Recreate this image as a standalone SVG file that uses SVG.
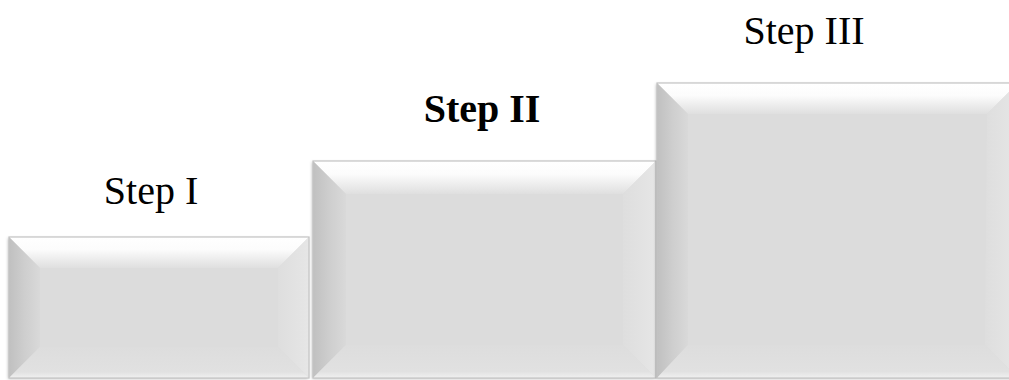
<svg xmlns="http://www.w3.org/2000/svg" width="1009" height="380" viewBox="0 0 1009 380">
<style>
.lbl{font-family:"Liberation Serif","Times New Roman",serif;font-size:40px;fill:#000;text-anchor:middle}
.face{fill:#dcdcdc}
.top{fill:url(#gTop)}
.left{fill:url(#gLeft)}
.right{fill:url(#gRight)}
.bot{fill:url(#gBot)}
.edge{fill:none;stroke:#c4c4c4;stroke-width:1.2}
</style>
<defs>
<linearGradient id="gTop" x1="0" y1="0" x2="0" y2="1">
<stop offset="0" stop-color="#ffffff"/>
<stop offset="0.4" stop-color="#fcfcfc"/>
<stop offset="1" stop-color="#dfdfdf"/>
</linearGradient>
<linearGradient id="gLeft" x1="0" y1="0" x2="1" y2="0">
<stop offset="0" stop-color="#c0c0c0"/>
<stop offset="0.5" stop-color="#cecece"/>
<stop offset="1" stop-color="#d9d9d9"/>
</linearGradient>
<linearGradient id="gRight" x1="0" y1="0" x2="1" y2="0">
<stop offset="0" stop-color="#dedede"/>
<stop offset="1" stop-color="#e6e6e6"/>
</linearGradient>
<linearGradient id="gBot" x1="0" y1="0" x2="0" y2="1">
<stop offset="0" stop-color="#dddddd"/>
<stop offset="0.8" stop-color="#e1e1e1"/>
<stop offset="1" stop-color="#f0f0f0"/>
</linearGradient>
<filter id="sh" x="-5%" y="-5%" width="110%" height="110%">
<feDropShadow dx="-1" dy="1" stdDeviation="1.5" flood-color="#000" flood-opacity="0.25"/>
</filter>
</defs>

<g id="step1">
<g filter="url(#sh)">
<rect x="9" y="237" width="300" height="141" class="face"/>
</g>
<polygon class="top" points="9,237 309,237 278,268 40,268"/>
<polygon class="left" points="9,237 40,268 40,347 9,378"/>
<polygon class="right" points="309,237 309,378 278,347 278,268"/>
<polygon class="bot" points="9,378 40,347 278,347 309,378"/>
<rect x="9" y="237" width="300" height="141" class="edge"/>
<text class="lbl" x="151" y="204">Step I</text>
</g>

<g id="step2">
<g filter="url(#sh)">
<rect x="313" y="161" width="343" height="217" class="face"/>
</g>
<polygon class="top" points="313,161 656,161 623,194 346,194"/>
<polygon class="left" points="313,161 346,194 346,345 313,378"/>
<polygon class="right" points="656,161 656,378 623,345 623,194"/>
<polygon class="bot" points="313,378 346,345 623,345 656,378"/>
<rect x="313" y="161" width="343" height="217" class="edge"/>
<text class="lbl" x="482" y="122" font-weight="bold">Step II</text>
</g>

<g id="step3">
<g filter="url(#sh)">
<rect x="657" y="83" width="361" height="295" class="face"/>
</g>
<polygon class="top" points="657,83 1018,83 987,114 688,114"/>
<polygon class="left" points="657,83 688,114 688,345 657,378"/>
<polygon class="right" points="1018,83 1018,378 985,345 987,114"/>
<polygon class="bot" points="657,378 688,345 985,345 1018,378"/>
<rect x="657" y="83" width="361" height="295" class="edge"/>
<text class="lbl" x="804" y="44">Step III</text>
</g>

<g id="connectors"/>
</svg>
